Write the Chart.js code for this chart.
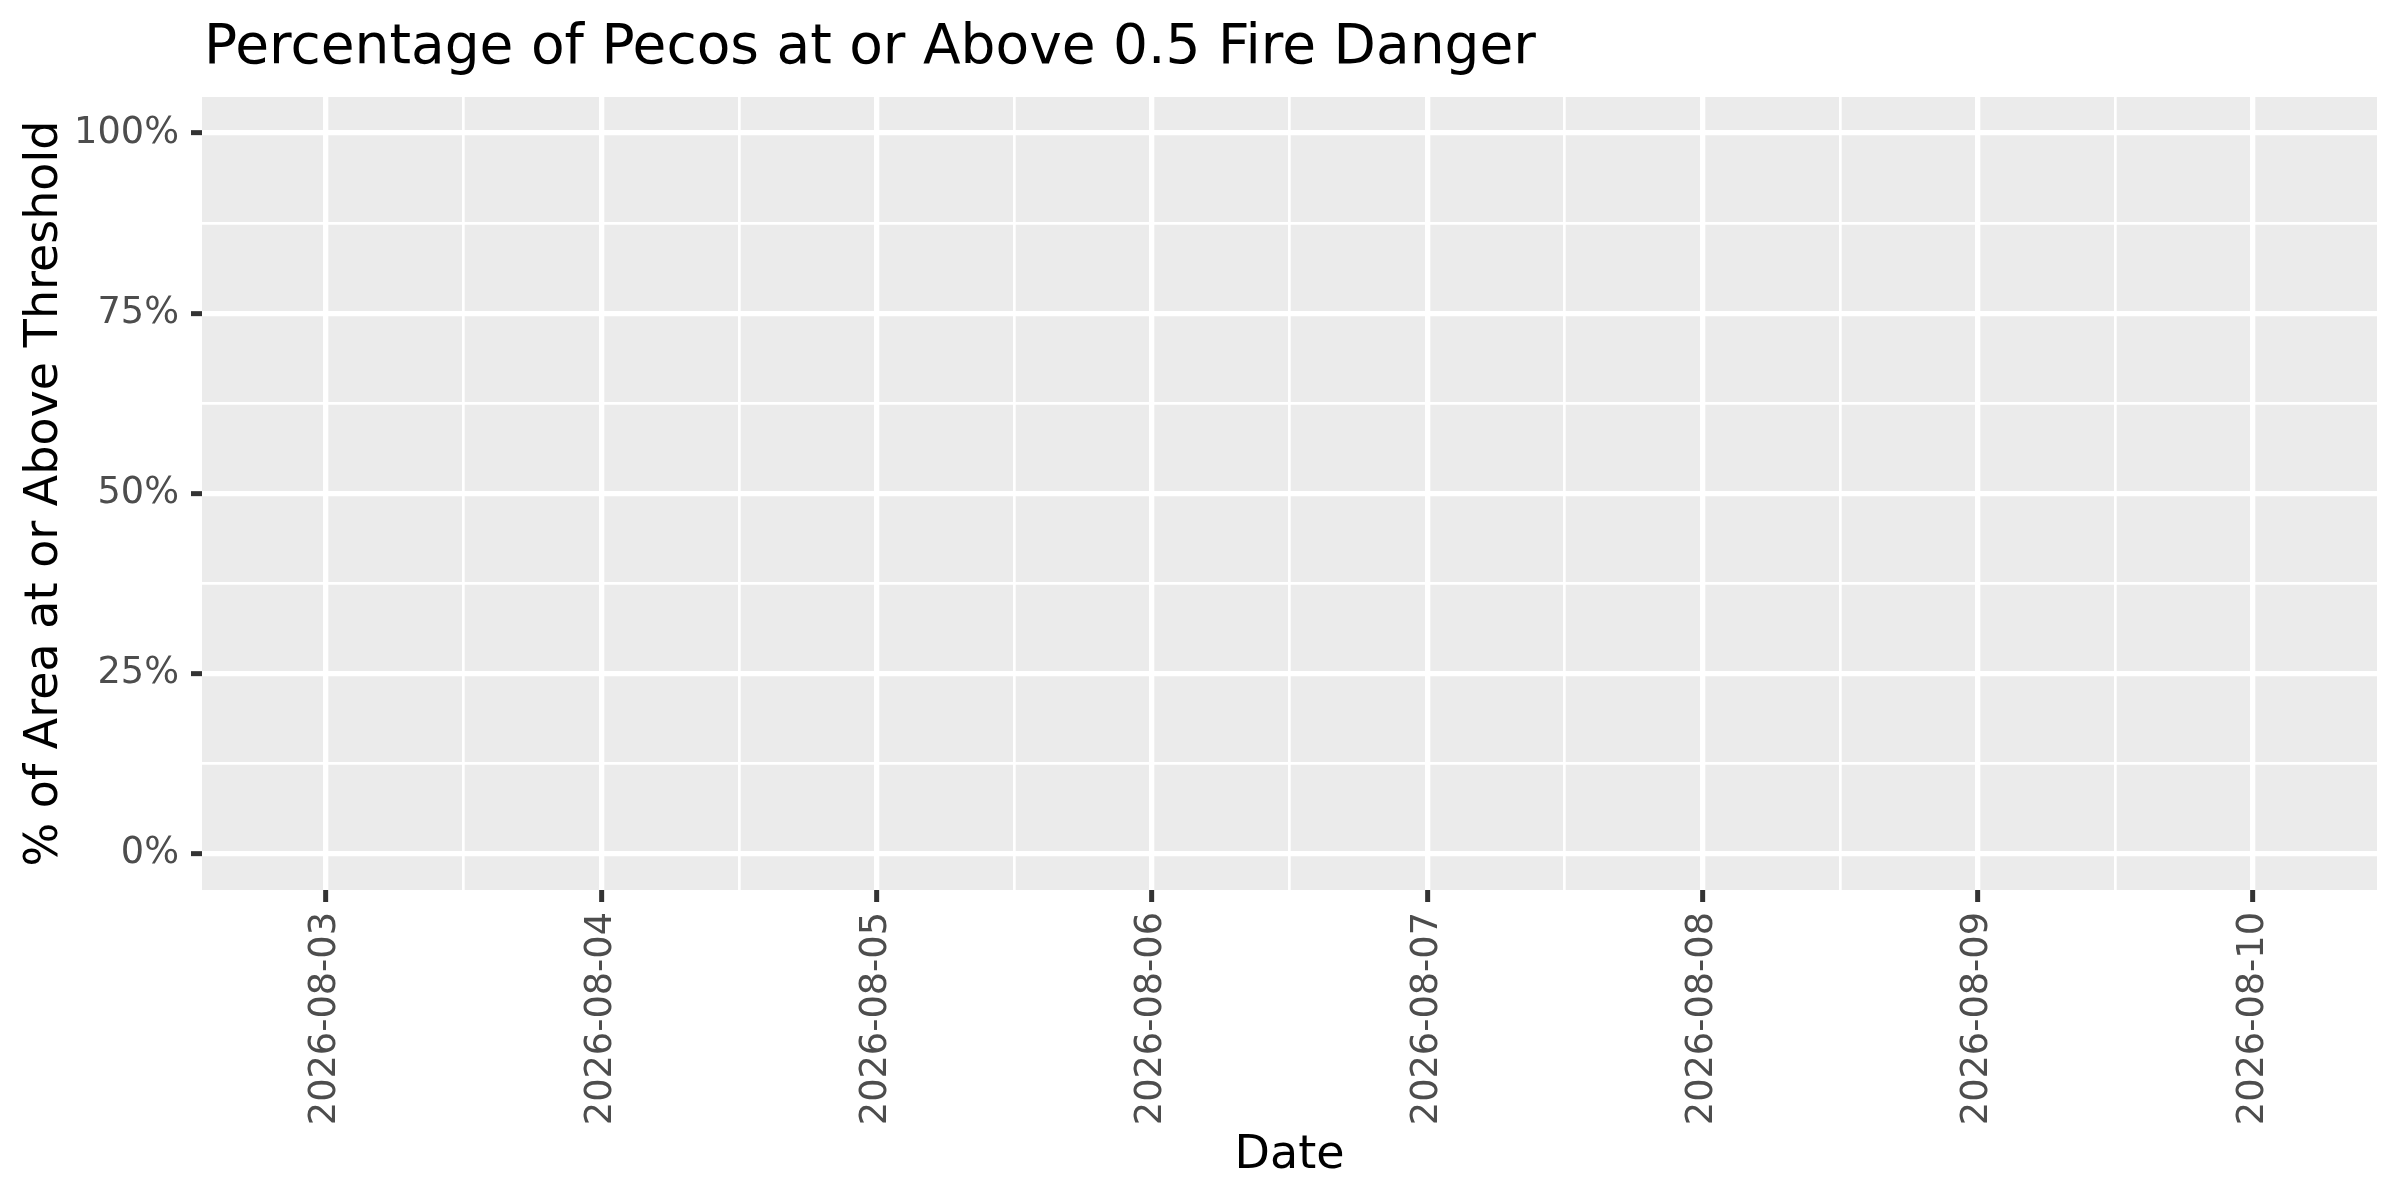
<!DOCTYPE html>
<html>
<head>
<meta charset="utf-8">
<script src="https://cdn.jsdelivr.net/npm/chart.js@4/dist/chart.umd.min.js"></script>
<style>
  html, body { margin: 0; padding: 0; background: #fff; }
  #wrap { width: 2400px; height: 1200px; }
</style>
</head>
<body>
<div id="wrap"><canvas id="chart" width="2400" height="1200"></canvas></div>
<script>
// Datos del gráfico
const dates = ['2026-08-03', '2026-08-04', '2026-08-05', '2026-08-06',
               '2026-08-07', '2026-08-08', '2026-08-09', '2026-08-10'];
const pctAbove = [0, 0, 0, 0, 0, 0, 0, 0];
const yMajorTicks = [0, 25, 50, 75, 100];
const yMinorTicks = [12.5, 37.5, 62.5, 87.5];
const xMinorTicks = [0.5, 1.5, 2.5, 3.5, 4.5, 5.5, 6.5];

const titleText = 'Percentage of Pecos at or Above 0.5 Fire Danger';
const FONT = "'DejaVu Sans', sans-serif";

// Fondo gris del panel + título alineado al panel
const ggPanel = {
    id: 'ggPanel',
    beforeDraw: function(chart) {
        const a = chart.chartArea;
        const ctx = chart.ctx;
        ctx.save();
        ctx.fillStyle = '#EBEBEB';
        ctx.fillRect(a.left, a.top, a.right - a.left, a.bottom - a.top);
        ctx.restore();
    },
    afterDraw: function(chart) {
        const ctx = chart.ctx;
        ctx.save();
        ctx.fillStyle = '#000000';
        ctx.font = '55px ' + FONT;
        ctx.textBaseline = 'alphabetic';
        ctx.textAlign = 'left';
        ctx.fillText(titleText, chart.chartArea.left + 2, 63);
        ctx.restore();
    }
};

// Marcas ordenadas (mayores + menores)
function sortedTicks(major, minor) {
    return major.concat(minor).sort(function(a, b) { return a - b; })
        .map(function(v) { return { value: v }; });
}

function isMajorX(c) {
    return c.tick && Number.isInteger(c.tick.value);
}
function isMajorY(c) {
    return c.tick && yMajorTicks.indexOf(c.tick.value) >= 0;
}

const ctx = document.getElementById('chart');
new Chart(ctx, {
    type: 'bar',
    data: {
        datasets: [{
            label: 'pct',
            data: dates.map(function(d, i) { return { x: i, y: pctAbove[i] }; }),
            backgroundColor: '#595959',
            borderWidth: 0,
            barPercentage: 0.9,
            categoryPercentage: 1
        }]
    },
    options: {
        responsive: false,
        devicePixelRatio: 1,
        animation: false,
        layout: { padding: { top: 97, right: 23, bottom: 0, left: 0 } },
        plugins: {
            legend: { display: false },
            tooltip: { enabled: false }
        },
        scales: {
            x: {
                type: 'linear',
                offset: false,
                min: -0.45,
                max: 7.45,
                afterBuildTicks: function(scale) {
                    scale.ticks = sortedTicks(dates.map(function(d, i) { return i; }), xMinorTicks);
                },
                afterFit: function(scale) { scale.height = 310; },
                border: { display: false },
                grid: {
                    offset: false,
                    color: '#FFFFFF',
                    lineWidth: function(c) { return isMajorX(c) ? 5.3 : 2.7; },
                    drawTicks: true,
                    tickLength: 12,
                    tickWidth: 5,
                    tickColor: function(c) { return isMajorX(c) ? '#333333' : 'rgba(0,0,0,0)'; }
                },
                ticks: {
                    autoSkip: false,
                    minRotation: 90,
                    maxRotation: 90,
                    padding: 10,
                    color: '#4D4D4D',
                    font: { family: FONT, size: 36.7 },
                    callback: function(value) {
                        return Number.isInteger(value) ? dates[value] : '';
                    }
                },
                title: {
                    display: true,
                    text: 'Date',
                    color: '#000000',
                    font: { family: FONT, size: 46, lineHeight: 1.2 },
                    padding: { top: 0, bottom: 16 }
                }
            },
            y: {
                type: 'linear',
                min: -5,
                max: 105,
                afterBuildTicks: function(scale) {
                    scale.ticks = sortedTicks(yMajorTicks, yMinorTicks);
                },
                afterFit: function(scale) { scale.width = 202; },
                border: { display: false },
                grid: {
                    color: '#FFFFFF',
                    lineWidth: function(c) { return isMajorY(c) ? 5.3 : 2.7; },
                    drawTicks: true,
                    tickLength: 11,
                    tickWidth: 5,
                    tickColor: function(c) { return isMajorY(c) ? '#333333' : 'rgba(0,0,0,0)'; }
                },
                ticks: {
                    padding: 12,
                    color: '#4D4D4D',
                    font: { family: FONT, size: 36.7 },
                    callback: function(value) {
                        return yMajorTicks.indexOf(value) >= 0 ? value + '%' : '';
                    }
                },
                title: {
                    display: true,
                    text: '% of Area at or Above Threshold',
                    color: '#000000',
                    font: { family: FONT, size: 46, lineHeight: 1.2 },
                    padding: { top: 17, bottom: 0 }
                }
            }
        }
    },
    plugins: [ggPanel]
});
</script>
</body>
</html>
